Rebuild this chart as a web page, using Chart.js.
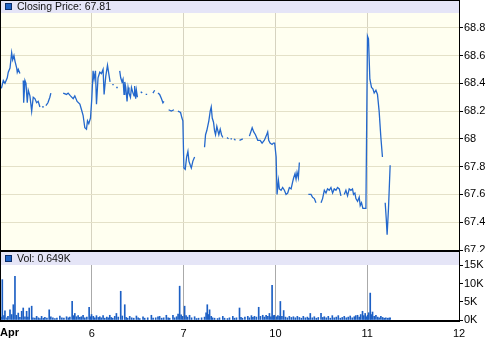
<!DOCTYPE html>
<html>
<head>
<meta charset="utf-8">
<script src="https://cdn.jsdelivr.net/npm/chart.js@4"></script>
<style>
  body { margin: 0; background: #fff; }
  #wrap { position: relative; width: 500px; height: 342px; }
  canvas { position: absolute; left: 0; }
  #price { top: 0; }
  #vol { top: 252px; }
</style>
</head>
<body>
<div id="wrap">
  <canvas id="price" width="500" height="252"></canvas>
  <canvas id="vol" width="500" height="90"></canvas>
</div>
<script>
// x axis is in trading days, 0 = Apr 5 open, 1 = Apr 6 open ...
const dayLabels = ['Apr', '6', '7', '10', '11', '12'];
const dayTicks = [0, 1, 2, 3, 4, 5];
const priceTicks = [67.2, 67.4, 67.6, 67.8, 68, 68.2, 68.4, 68.6, 68.8];
const volTicks = [0, 5, 10, 15];

// intraday closing prices, null marks a break in the line
const priceTimes = [
  0.000, 0.018, 0.036, 0.054, 0.079, 0.090, 0.109, 0.127, 0.138, 0.152, 0.163, 0.182, 0.188, 0.199, 0.217, null,
  0.253, 0.258, 0.272, 0.283, 0.297, 0.308, 0.326, 0.345, 0.362, 0.380, 0.399, 0.416, 0.435, null,
  0.457, 0.478, null,
  0.500, 0.522, 0.543, 0.554, null,
  0.688, 0.725, 0.742, 0.768, 0.797, 0.815, 0.840, 0.870, 0.888, 0.905, 0.924, 0.942, 0.953, 0.967, 0.986,
  1.000, 1.014, 1.025, 1.040, 1.051, 1.068, 1.087, 1.105, 1.123, 1.134, 1.152, 1.171, 1.185, 1.199, null,
  1.223, 1.239, null, 1.266, 1.283, null,
  1.304, 1.315, 1.329, 1.340, 1.351, 1.359, 1.370, 1.384, 1.395, 1.405, 1.421, 1.432, 1.449, 1.460, 1.467, 1.478, 1.486, 1.497, null,
  1.533, 1.549, null, 1.587, 1.603, null,
  1.666, 1.685, null,
  1.721, 1.739, 1.758, 1.775, 1.786, null,
  1.837, 1.866, 1.895, null,
  1.938, 1.967, 1.982, 1.992,
  2.003, 2.018, 2.033, 2.047, 2.058, 2.073, 2.084, 2.101, 2.120, null,
  2.228, 2.239, 2.253, 2.275, 2.290, 2.301, 2.312, 2.326, 2.337, 2.348, 2.362, 2.373, 2.384, 2.399, 2.413, 2.427, null,
  2.473, 2.489, null, 2.511, 2.527, null, 2.549, 2.565, null,
  2.609, 2.645, null,
  2.717, 2.747, 2.764, 2.783, 2.808, 2.834, 2.855, 2.880, 2.899, 2.916, 2.927, 2.942, 2.964, 2.978, 2.992,
  3.008, 3.018, 3.033, 3.043, 3.062, 3.079, 3.098, 3.116, 3.134, 3.152, 3.171, 3.188, 3.199, 3.214, 3.225, 3.236, 3.250, 3.261, null,
  3.359, 3.388, 3.405, 3.424, 3.442, null,
  3.497, 3.514, 3.533, 3.551, 3.568, 3.587, 3.605, 3.623, 3.641, 3.660, 3.677, 3.696, 3.714, null,
  3.750, 3.768, 3.786, 3.804, 3.823, 3.840, 3.851, 3.866, 3.877, 3.895, 3.913, 3.924, 3.938, 3.953, 3.967, 3.986,
  4.003, 4.014, 4.029, 4.047, 4.062, 4.076, 4.095, 4.112, 4.130, 4.149, 4.166, null,
  4.196, 4.207, 4.217, 4.232, 4.250
];
const priceValues = [
  68.36, 68.37, 68.42, 68.40, 68.44, 68.48, 68.51, 68.62, 68.57, 68.60, 68.56, 68.51, 68.48, 68.50, 68.47, null,
  68.42, 68.26, 68.42, 68.40, 68.26, 68.35, 68.31, 68.20, 68.30, 68.29, 68.26, 68.27, 68.23, null,
  68.23, 68.23, null,
  68.24, 68.26, 68.30, 68.33, null,
  68.33, 68.32, 68.33, 68.31, 68.29, 68.31, 68.27, 68.25, 68.21, 68.17, 68.08, 68.07, 68.13, 68.11, 68.15,
  68.29, 68.49, 68.43, 68.49, 68.25, 68.44, 68.48, 68.47, 68.50, 68.32, 68.45, 68.53, 68.47, 68.41, null,
  68.39, 68.39, null, 68.37, 68.37, null,
  68.49, 68.44, 68.41, 68.43, 68.32, 68.41, 68.37, 68.27, 68.37, 68.33, 68.30, 68.37, 68.33, 68.31, 68.38, 68.29, 68.35, 68.30, null,
  68.34, 68.33, null, 68.32, 68.32, null,
  68.33, 68.35, null,
  68.33, 68.32, 68.29, 68.26, 68.27, null,
  68.21, 68.20, 68.21, null,
  68.20, 68.19, 68.15, 68.13,
  67.79, 67.78, 67.87, 67.91, 67.84, 67.81, 67.79, 67.84, 67.87, null,
  67.94, 68.03, 68.06, 68.13, 68.20, 68.23, 68.15, 68.12, 68.06, 68.03, 68.09, 68.06, 68.03, 68.07, 68.03, 68.01, null,
  68.01, 68.00, null, 68.00, 68.00, null, 68.00, 67.99, null,
  67.99, 68.00, null,
  68.02, 68.08, 68.05, 68.03, 67.99, 67.99, 67.97, 67.99, 68.02, 68.05, 67.99, 67.97, 67.96, 67.97, 67.97,
  67.87, 67.60, 67.70, 67.64, 67.63, 67.65, 67.63, 67.60, 67.61, 67.65, 67.64, 67.69, 67.72, 67.75, 67.71, 67.76, 67.72, 67.83, null,
  67.60, 67.60, 67.58, 67.57, 67.54, null,
  67.54, 67.57, 67.63, 67.61, 67.64, 67.63, 67.65, 67.61, 67.64, 67.63, 67.65, 67.64, 67.59, null,
  67.60, 67.63, 67.59, 67.64, 67.63, 67.64, 67.60, 67.61, 67.57, 67.55, 67.58, 67.52, 67.54, 67.50, 67.50, 67.50,
  68.74, 68.72, 68.43, 68.37, 68.36, 68.33, 68.35, 68.32, 68.20, 68.01, 67.87, null,
  67.54, 67.43, 67.31, 67.50, 67.81
];

// volume in thousands of shares
const volTimes = [
  0.011, 0.025, 0.043, 0.054, 0.076, 0.087, 0.109, 0.127, 0.145, 0.163, 0.179, 0.199, 0.217, 0.236, 0.253, 0.272,
  0.290, 0.304, 0.318, 0.345, 0.359, 0.380, 0.399, 0.418, 0.435, 0.453, 0.473, 0.489, 0.511, 0.536, 0.554, 0.576,
  0.598, 0.620, 0.652, 0.674, 0.696, 0.725, 0.745, 0.761, 0.786, 0.799, 0.815, 0.832, 0.851, 0.870, 0.886, 0.905,
  0.924, 0.946, 0.971, 0.984,
  0.997, 1.016, 1.033, 1.051, 1.071, 1.087, 1.103, 1.123, 1.141, 1.163, 1.179, 1.196, 1.212, 1.228, 1.250, 1.268,
  1.288, 1.315, 1.332, 1.359, 1.375, 1.391, 1.413, 1.435, 1.457, 1.486, 1.505, 1.522, 1.558, 1.576, 1.609, 1.649,
  1.668, 1.696, 1.721, 1.739, 1.761, 1.783, 1.812, 1.832, 1.848, 1.884, 1.902, 1.924, 1.940, 1.957, 1.973, 1.989,
  2.011, 2.027, 2.043, 2.065, 2.087, 2.120, 2.141, 2.163, 2.196, 2.228, 2.245, 2.258, 2.272, 2.283, 2.301, 2.315,
  2.337, 2.370, 2.391, 2.427, 2.446, 2.478, 2.500, 2.536, 2.554, 2.576, 2.609, 2.625, 2.641, 2.668, 2.699, 2.717,
  2.739, 2.755, 2.772, 2.793, 2.818, 2.837, 2.862, 2.880, 2.899, 2.918, 2.935, 2.951, 2.964, 2.978, 2.989,
  3.011, 3.027, 3.043, 3.054, 3.071, 3.090, 3.109, 3.130, 3.152, 3.174, 3.196, 3.217, 3.239, 3.261, 3.283, 3.304,
  3.326, 3.348, 3.364, 3.380, 3.402, 3.424, 3.446, 3.467, 3.497, 3.516, 3.533, 3.554, 3.576, 3.598, 3.620, 3.641,
  3.663, 3.685, 3.707, 3.728, 3.750, 3.772, 3.793, 3.815, 3.837, 3.859, 3.875, 3.895, 3.913, 3.929, 3.949, 3.962,
  3.978, 3.989,
  4.005, 4.016, 4.033, 4.043, 4.058, 4.076, 4.095, 4.114, 4.130, 4.149, 4.168, 4.185, 4.203, 4.223, 4.239, 4.250
];
const volValues = [
  0.8, 11.1, 1.2, 2.5, 0.6, 1.0, 2.8, 1.5, 4.2, 12.0, 1.3, 1.9, 0.7, 2.4, 3.3, 0.9,
  2.4, 0.8, 3.3, 3.8, 0.6, 0.5, 1.0, 0.6, 0.4, 1.0, 0.5, 0.7, 0.5, 2.8, 0.9, 0.6,
  0.4, 0.5, 1.1, 0.6, 0.5, 0.9, 0.6, 0.8, 5.1, 1.2, 1.8, 0.9, 1.2, 0.7, 0.9, 1.3,
  0.6, 0.8, 3.5, 0.9,
  1.5, 1.0, 0.6, 1.2, 0.7, 0.9, 0.6, 1.2, 0.5, 0.8, 0.6, 1.3, 0.7, 0.5, 1.0, 1.8,
  0.8, 7.9, 1.1, 4.2, 0.7, 0.5, 1.0, 0.6, 0.5, 1.1, 0.6, 0.4, 0.9, 0.5, 0.6, 1.3,
  0.5, 0.6, 0.9, 1.0, 0.5, 0.6, 1.3, 0.6, 0.5, 1.3, 0.6, 0.9, 1.6, 9.3, 1.4, 1.0,
  3.8, 1.2, 0.8, 1.3, 0.6, 0.9, 0.4, 0.5, 0.6, 0.8, 2.0, 4.2, 1.5, 2.8, 1.0, 0.6,
  0.5, 0.4, 0.6, 1.0, 0.5, 0.4, 0.6, 1.0, 0.5, 0.6, 3.3, 0.7, 0.5, 0.8, 1.0, 0.6,
  1.2, 0.7, 1.0, 0.8, 3.5, 1.0, 1.3, 0.8, 1.3, 1.0, 1.8, 0.9, 9.5, 1.2, 1.3,
  0.9, 1.2, 1.0, 5.1, 1.0, 2.6, 0.8, 0.6, 1.0, 0.7, 0.9, 0.6, 1.0, 0.7, 0.5, 1.0,
  0.6, 0.8, 0.5, 1.8, 0.6, 0.9, 0.5, 0.7, 1.8, 0.7, 0.9, 0.6, 1.0, 0.5, 1.2, 0.6,
  0.8, 1.2, 0.5, 0.7, 1.0, 0.6, 0.8, 1.1, 0.6, 0.9, 1.2, 1.3, 0.8, 1.5, 2.4, 1.2,
  1.8, 0.9,
  1.3, 2.0, 7.4, 1.5, 2.2, 1.0, 1.3, 0.8, 0.6, 1.0, 0.7, 0.5, 0.6, 0.5, 0.5, 0.6
];

const FONT = '"Liberation Sans", Arial, sans-serif';
Chart.defaults.font.family = FONT;
Chart.defaults.font.size = 11;
Chart.defaults.color = '#000';

// gaps keep the x of the point before them
const pricePoints = priceTimes.map((t, i) => ({
    x: t === null ? priceTimes[i - 1] : t,
    y: priceValues[i]
}));
const volPoints = volTimes.map((t, i) => ({ x: t, y: volValues[i] }));

// plot background, header strip with legend text, frame
const panelPlugin = {
    id: 'panel',
    beforeDraw(chart, args, opts) {
        const { ctx, chartArea: a } = chart;
        ctx.save();
        ctx.fillStyle = opts.background;
        ctx.fillRect(a.left, a.top, a.right - a.left, a.bottom - a.top);
        ctx.restore();
    },
    afterDraw(chart, args, opts) {
        const { ctx, chartArea: a } = chart;
        ctx.save();
        ctx.fillStyle = '#e5e5f7';
        ctx.fillRect(a.left, a.top, a.right - a.left, 13);
        ctx.fillStyle = '#1f63c6';
        ctx.fillRect(a.left + 5, a.top + 3, 7, 7);
        ctx.strokeStyle = '#0b2d6b';
        ctx.lineWidth = 1;
        ctx.strokeRect(a.left + 5.5, a.top + 3.5, 6, 6);
        ctx.fillStyle = '#111';
        ctx.font = '10.5px ' + FONT;
        ctx.textBaseline = 'middle';
        ctx.fillText(opts.title, a.left + 17, a.top + 7);

        ctx.fillStyle = '#000';
        ctx.fillRect(a.left, a.top, 1, a.bottom - a.top);
        ctx.fillRect(a.right, a.top, 1, a.bottom - a.top);
        ctx.fillRect(a.left, a.bottom, a.right - a.left + 1, 2);
        if (opts.topLine) ctx.fillRect(a.left, a.top, a.right - a.left, 1);
        ctx.restore();
    }
};

// "Apr" sits to the right of its tick, the other day labels are centred
const firstDayLabel = {
    id: 'firstDayLabel',
    afterDraw(chart) {
        const x = chart.scales.x;
        const ctx = chart.ctx;
        ctx.save();
        ctx.font = 'bold 11px ' + FONT;
        ctx.fillStyle = '#000';
        ctx.textAlign = 'left';
        ctx.textBaseline = 'top';
        ctx.fillText(dayLabels[0], x.getPixelForValue(dayTicks[0]), x.top + 7);
        ctx.restore();
    }
};

function fixWidth(w) {
    return scale => {
        scale.width = w;
        scale.paddingTop = 0;
        scale.paddingBottom = 0;
    };
}
function fixHeight(h) {
    return scale => {
        scale.height = h;
        scale.paddingLeft = 0;
        scale.paddingRight = 0;
    };
}
function dayGrid(color) {
    return c => (c.tick && (c.tick.value === dayTicks[0] || c.tick.value === dayTicks[dayTicks.length - 1]))
        ? 'rgba(0,0,0,0)' : color;
}

const common = {
    responsive: false,
    animation: false,
    devicePixelRatio: 1,
    layout: { padding: 0 },
    events: []
};

new Chart(document.getElementById('price'), {
    type: 'line',
    data: {
        datasets: [{
            data: pricePoints,
            borderColor: '#2468cc',
            borderWidth: 1.3,
            pointRadius: 0,
            spanGaps: false,
            tension: 0
        }]
    },
    options: Object.assign({}, common, {
        scales: {
            x: {
                type: 'linear',
                min: 0,
                max: 5,
                afterBuildTicks: s => { s.ticks = dayTicks.map(v => ({ value: v })); },
                afterFit: fixHeight(2),
                ticks: { display: false },
                border: { display: false },
                grid: { color: dayGrid('#d6d3c0'), drawTicks: false }
            },
            y: {
                position: 'right',
                min: 67.2,
                max: 69.0,
                afterBuildTicks: s => { s.ticks = priceTicks.map(v => ({ value: v })); },
                afterFit: fixWidth(41),
                border: { display: false },
                grid: { color: '#e4e1c8', tickColor: '#000', tickLength: 4 },
                ticks: {
                    padding: 1,
                    callback: v => String(Number(v.toFixed(1)))
                }
            }
        },
        plugins: {
            legend: { display: false },
            tooltip: { enabled: false },
            panel: { background: '#fffff0', title: 'Closing Price: 67.81', topLine: true }
        }
    }),
    plugins: [panelPlugin]
});

new Chart(document.getElementById('vol'), {
    type: 'bar',
    data: {
        datasets: [{
            data: volPoints,
            backgroundColor: '#1c5fc4',
            barThickness: 1,
            grouped: false
        }]
    },
    options: Object.assign({}, common, {
        scales: {
            x: {
                type: 'linear',
                min: 0,
                max: 5,
                offset: false,
                afterBuildTicks: s => { s.ticks = dayTicks.map(v => ({ value: v })); },
                afterFit: fixHeight(22),
                border: { display: false },
                grid: { color: dayGrid('#aaaaaa'), drawTicks: false, offset: false },
                ticks: {
                    autoSkip: false,
                    maxRotation: 0,
                    padding: 7,
                    callback: (v, i) => (i === 0 ? '' : dayLabels[i])
                }
            },
            y: {
                position: 'right',
                min: 0,
                max: 18.7,
                afterBuildTicks: s => { s.ticks = volTicks.map(v => ({ value: v })); },
                afterFit: fixWidth(41),
                border: { display: false },
                grid: { drawOnChartArea: false, tickColor: '#000', tickLength: 4 },
                ticks: {
                    padding: 1,
                    callback: v => v + 'K'
                }
            }
        },
        plugins: {
            legend: { display: false },
            tooltip: { enabled: false },
            panel: { background: '#ffffff', title: 'Vol: 0.649K', topLine: false }
        }
    }),
    plugins: [panelPlugin, firstDayLabel]
});
</script>
</body>
</html>
